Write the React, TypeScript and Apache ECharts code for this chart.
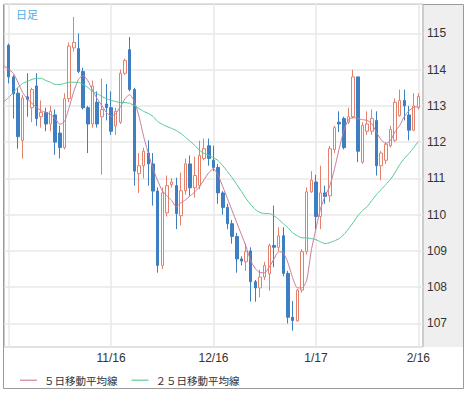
import { useEffect, useRef } from "react";
import * as echarts from "echarts";

const dates = [
  "10/16","10/17","10/18","10/19","10/20","10/23","10/24","10/25","10/26","10/27",
  "10/30","10/31","11/1","11/2","11/6","11/7","11/8","11/9","11/10","11/13",
  "11/14","11/15","11/16","11/17","11/20","11/21","11/22","11/23","11/24","11/27",
  "11/28","11/29","11/30","12/1","12/4","12/5","12/6","12/7","12/8","12/11",
  "12/12","12/13","12/14","12/15","12/16","12/18","12/19","12/20","12/21","12/22",
  "12/25","12/26","12/27","12/28","12/29","1/2","1/3","1/4","1/5","1/8",
  "1/9","1/10","1/11","1/12","1/15","1/16","1/17","1/18","1/19","1/22",
  "1/23","1/24","1/25","1/26","1/29","1/30","1/31","2/1","2/2","2/5",
  "2/6","2/7","2/8","2/9","2/12","2/13","2/14","2/15","2/16"
];

const opens = [
  114.67,113.80,113.35,112.05,113.25,112.95,113.55,112.70,112.82,112.50,
  112.75,112.25,111.85,113.20,114.60,114.58,113.95,112.95,112.50,113.10,
  112.70,113.05,112.95,112.45,112.55,113.90,114.55,113.45,111.13,111.35,
  111.70,111.40,110.65,108.60,110.05,110.83,110.80,109.97,110.66,111.40,
  110.74,110.80,111.55,111.90,111.50,111.30,110.60,110.20,109.75,109.40,
  108.78,108.70,109.00,108.15,107.98,108.28,108.37,109.15,109.10,109.42,
  108.38,107.17,107.07,107.92,108.98,110.63,110.90,109.95,110.60,110.52,
  111.80,112.55,112.65,112.55,112.70,113.80,111.45,112.30,112.30,112.60,
  111.35,111.50,111.90,112.05,112.73,113.15,112.75,112.33,112.95
];
const closes = [
  113.80,113.33,112.15,113.22,113.18,113.45,112.65,112.82,112.50,112.85,
  112.00,111.85,113.20,114.65,114.75,113.95,112.95,112.50,113.55,112.50,
  112.90,112.95,112.30,112.85,113.90,114.25,113.45,111.20,111.35,111.75,
  111.40,110.65,108.60,110.60,110.80,110.90,110.03,110.66,111.40,110.74,
  111.08,111.63,111.82,111.55,111.30,110.60,110.20,109.75,109.40,108.78,
  108.72,108.98,108.15,107.98,108.28,108.60,109.15,109.10,109.42,108.38,
  107.17,107.08,107.92,108.98,110.63,110.95,109.95,110.60,110.50,111.82,
  112.40,112.50,111.85,112.70,113.80,111.75,112.46,112.50,112.65,111.35,
  111.70,111.94,112.35,113.10,113.15,113.00,112.33,113.00,113.26
];
const highs = [
  114.72,113.85,113.50,113.30,113.90,113.50,113.90,113.15,112.95,113.00,
  112.90,112.45,113.35,114.75,115.45,115.00,114.05,113.00,113.70,113.40,
  113.75,113.60,113.40,112.95,114.00,114.30,114.90,113.50,111.70,111.85,
  112.05,111.70,110.75,110.75,111.08,111.00,111.02,111.16,111.55,111.63,
  111.60,112.04,112.10,112.10,111.90,111.40,110.65,110.30,109.85,109.50,
  108.85,109.20,109.10,108.20,108.48,108.70,109.20,110.25,109.65,109.65,
  108.45,107.62,107.95,109.05,110.75,111.20,111.10,111.35,110.80,111.90,
  112.45,112.85,112.70,112.95,114.00,113.80,112.55,112.85,112.90,112.85,
  111.75,112.00,112.45,113.20,113.45,113.45,113.00,113.35,113.35
];
const lows = [
  113.62,112.65,111.82,111.55,112.70,112.55,112.45,112.40,112.30,112.30,
  111.65,111.55,111.80,113.10,114.50,113.90,112.90,111.70,112.40,112.40,
  111.10,112.60,112.20,112.20,112.50,113.85,113.40,110.80,110.60,111.00,
  110.80,110.25,108.40,108.50,109.95,110.75,109.60,109.70,110.55,110.52,
  110.47,110.70,111.50,111.35,111.20,110.30,110.00,109.60,109.20,108.40,
  108.60,108.45,107.60,107.60,107.72,108.20,107.90,108.55,109.00,108.30,
  107.00,106.80,107.05,107.85,108.90,110.60,109.60,109.60,110.30,110.35,
  111.70,112.28,111.80,112.50,112.65,111.45,111.40,112.20,112.20,111.08,
  110.95,111.40,111.85,112.00,112.70,112.60,112.05,112.30,112.90
];

// moving averages (first value sits on the left edge)
const ma5Start = 114.1;
const ma5 = [
  114.01,113.90,113.65,113.37,113.20,113.07,112.96,112.87,112.82,112.76,
  112.65,112.49,112.57,112.96,113.40,113.73,113.84,113.70,113.43,113.20,
  113.01,112.82,112.71,112.79,112.98,113.20,113.31,113.12,112.71,112.15,
  111.69,111.27,110.94,110.66,110.52,110.39,110.22,110.33,110.41,110.52,
  110.63,110.77,110.97,111.16,111.27,111.08,110.77,110.44,110.11,109.78,
  109.45,109.12,108.73,108.51,108.40,108.40,108.56,108.78,108.98,108.95,
  108.67,108.26,107.98,107.98,108.18,109.01,109.61,110.17,110.52,110.80,
  111.27,111.82,112.32,112.62,112.68,112.65,112.62,112.60,112.51,112.27,
  112.07,111.96,112.04,112.29,112.46,112.71,112.87,112.96,112.98
];
const ma25Start = 113.12;
const ma25 = [
  113.23,113.37,113.51,113.62,113.67,113.73,113.76,113.76,113.70,113.65,
  113.59,113.59,113.62,113.65,113.65,113.65,113.59,113.51,113.40,113.34,
  113.26,113.20,113.15,113.12,113.09,113.09,113.07,113.01,112.93,112.85,
  112.79,112.71,112.57,112.49,112.43,112.38,112.32,112.24,112.13,112.02,
  111.91,111.77,111.69,111.63,111.57,111.49,111.35,111.19,111.02,110.83,
  110.64,110.44,110.28,110.14,110.06,110.03,110.03,109.97,109.87,109.75,
  109.64,109.50,109.42,109.36,109.36,109.34,109.31,109.25,109.20,109.23,
  109.28,109.34,109.45,109.61,109.78,109.97,110.11,110.22,110.39,110.55,
  110.69,110.83,110.97,111.16,111.38,111.55,111.69,111.85,112.02
];

const yMin = 106.35;
const yMax = 115.81;
const labelEvery = 22;
const ma5Name = "５日移動平均線";
const ma25Name = "２５日移動平均線";

export default function App() {
  const ref = useRef<HTMLDivElement>(null);
  useEffect(() => {
    document.body.style.margin = "0";
    const chart = echarts.init(ref.current!, null, { renderer: "svg" });
    const cats = ["", ...dates, ""];
    const empty = ["-", "-", "-", "-"];
    const candles = [
      empty,
      ...dates.map((_, i) => [opens[i], closes[i], lows[i], highs[i]]),
      empty,
    ];
    const ma5Data = [ma5Start, ...ma5, "-"];
    const ma25Data = [ma25Start, ...ma25, "-"];
    const isGridIdx = (idx: number) =>
      idx >= 1 && idx <= dates.length && (idx - 1) % labelEvery === 0;

    chart.setOption({
      animation: false,
      backgroundColor: "#ffffff",
      grid: {
        show: true,
        left: 4,
        top: 4,
        width: 419,
        height: 343,
        borderColor: "#9a9a9a",
        borderWidth: 1,
        backgroundColor: "#ffffff",
      },
      graphic: [
        {
          type: "rect",
          silent: true,
          shape: { x: 424, y: 5, width: 40, height: 342 },
          style: { fill: "#efefef" },
        },
        {
          type: "rect",
          silent: true,
          shape: { x: 3.5, y: 4.5, width: 460, height: 384 },
          style: { fill: "none", stroke: "#9a9a9a", lineWidth: 1 },
        },
        {
          type: "text",
          left: 16,
          top: 8,
          silent: true,
          style: {
            text: "日足",
            fill: "#48ade6",
            fontSize: 11,
            fontFamily: "Noto Sans CJK JP",
          },
        },
      ],
      legend: {
        left: 15,
        top: 370,
        icon: "rect",
        itemWidth: 17,
        itemHeight: 1.5,
        itemGap: 14,
        data: [ma5Name, ma25Name],
        textStyle: {
          fontSize: 10.5,
          fontFamily: "Noto Sans CJK JP",
          color: "#333",
          padding: [0, 0, 0, 2],
        },
      },
      xAxis: {
        type: "category",
        data: cats,
        boundaryGap: false,
        axisLine: { show: false },
        axisTick: { show: false },
        axisLabel: {
          interval: (idx: number) => isGridIdx(idx) && idx > 1,
          color: "#333",
          fontSize: 12,
          fontFamily: "Liberation Sans",
          margin: 5,
        },
        splitLine: {
          show: true,
          interval: (idx: number) => isGridIdx(idx),
          lineStyle: { color: "#e8e8e8", width: 1.5 },
        },
      },
      yAxis: {
        type: "value",
        position: "right",
        min: yMin,
        max: yMax,
        splitNumber: 9,
        minInterval: 1,
        maxInterval: 1,
        axisLine: { show: false },
        axisTick: { show: false },
        axisLabel: {
          color: "#333",
          fontSize: 12,
          fontFamily: "Liberation Sans",
          margin: 4,
          formatter: (v: number) =>
            Math.abs(v - Math.round(v)) < 1e-6 ? String(Math.round(v)) : "",
        },
        splitLine: { lineStyle: { color: "#e8e8e8", width: 1.5 } },
      },
      series: [
        {
          type: "candlestick",
          data: candles,
          barWidth: 3,
          itemStyle: {
            color: "#ffffff",
            color0: "#3d7fc0",
            borderColor: "#e5806b",
            borderColor0: "#3d7fc0",
            borderWidth: 1,
          },
        },
        {
          name: ma5Name,
          type: "line",
          data: ma5Data,
          symbol: "none",
          smooth: 0.2,
          lineStyle: { color: "#cc7a9c", width: 1 },
          itemStyle: { color: "#d89ab2" },
        },
        {
          name: ma25Name,
          type: "line",
          data: ma25Data,
          symbol: "none",
          smooth: 0.2,
          lineStyle: { color: "#55c890", width: 1 },
          itemStyle: { color: "#7dd6aa" },
        },
      ],
    });
    return () => chart.dispose();
  }, []);
  return <div ref={ref} style={{ width: 468, height: 393 }} />;
}
